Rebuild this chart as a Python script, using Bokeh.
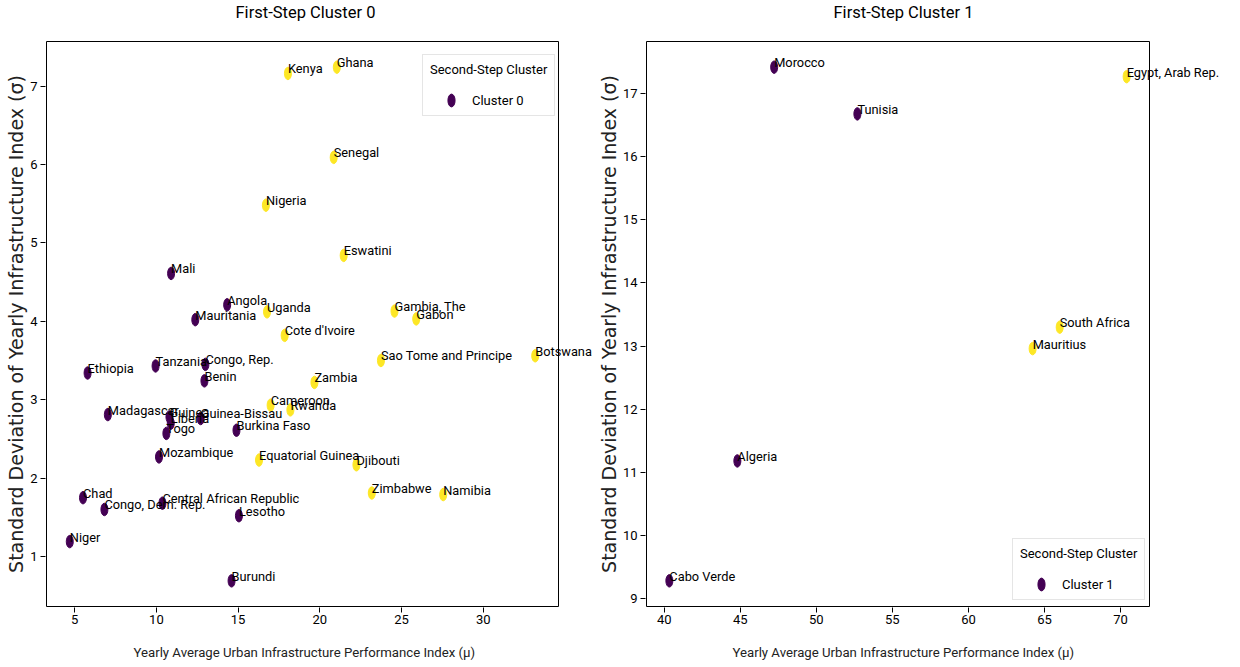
from bokeh.plotting import figure
from bokeh.models import (ColumnDataSource, LabelSet, Legend, LegendItem, FixedTicker,
                          Range1d, BoxAnnotation, Title)
from bokeh.layouts import row
from bokeh.core.properties import value
from bokeh.embed import file_html
from bokeh.resources import INLINE

# ---------------- data: first-step cluster 0 ----------------
countries0 = ["Kenya", "Ghana", "Senegal", "Nigeria", "Eswatini", "Mali", "Angola",
              "Mauritania", "Uganda", "Cote d'Ivoire", "Gambia, The", "Gabon",
              "Sao Tome and Principe", "Botswana", "Tanzania", "Congo, Rep.", "Ethiopia",
              "Benin", "Zambia", "Cameroon", "Rwanda", "Madagascar", "Guinea", "Liberia",
              "Guinea-Bissau", "Togo", "Burkina Faso", "Mozambique", "Equatorial Guinea",
              "Djibouti", "Zimbabwe", "Namibia", "Chad", "Congo, Dem. Rep.",
              "Central African Republic", "Lesotho", "Niger", "Burundi"]
mu0 = [18.05, 21.04, 20.85, 16.70, 21.46, 10.90, 14.33,
       12.38, 16.77, 17.85, 24.57, 25.90,
       23.74, 33.18, 9.95, 13.00, 5.79,
       12.94, 19.67, 16.99, 18.20, 7.03, 10.80, 10.88,
       12.71, 10.61, 14.90, 10.16, 16.28,
       22.24, 23.18, 27.55, 5.51, 6.82,
       10.37, 15.05, 4.70, 14.60]
sigma0 = [7.16, 7.24, 6.09, 5.48, 4.84, 4.61, 4.21,
          4.02, 4.12, 3.82, 4.13, 4.03,
          3.50, 3.56, 3.43, 3.45, 3.34,
          3.24, 3.22, 2.93, 2.87, 2.81, 2.78, 2.70,
          2.76, 2.57, 2.61, 2.27, 2.23,
          2.17, 1.81, 1.79, 1.75, 1.60,
          1.68, 1.52, 1.19, 0.69]
# second-step cluster: "P" = purple (legend cluster), "Y" = yellow
group0 = ["Y", "Y", "Y", "Y", "Y", "P", "P",
          "P", "Y", "Y", "Y", "Y",
          "Y", "Y", "P", "P", "P",
          "P", "Y", "Y", "Y", "P", "P", "P",
          "P", "P", "P", "P", "Y",
          "Y", "Y", "Y", "P", "P",
          "P", "P", "P", "P"]

# ---------------- data: first-step cluster 1 ----------------
countries1 = ["Morocco", "Egypt, Arab Rep.", "Tunisia", "South Africa", "Mauritius",
              "Algeria", "Cabo Verde"]
mu1 = [47.23, 70.40, 52.70, 66.00, 64.22, 44.81, 40.34]
sigma1 = [17.42, 17.27, 16.68, 13.30, 12.96, 11.18, 9.28]
group1 = ["P", "Y", "P", "Y", "Y", "P", "P"]

xticks0 = [5, 10, 15, 20, 25, 30]
yticks0 = [1, 2, 3, 4, 5, 6, 7]
xticks1 = [40, 45, 50, 55, 60, 65, 70]
yticks1 = [9, 10, 11, 12, 13, 14, 15, 16, 17]

titles = ["First-Step Cluster 0", "First-Step Cluster 1"]
legend_labels = ["Cluster 0", "Cluster 1"]
legend_title = "Second-Step Cluster"
xlabel = "Yearly Average Urban Infrastructure Performance Index (\u03bc)"
ylabel = "Standard Deviation of Yearly Infrastructure Index (\u03c3)"

PURPLE = "#440154"
YELLOW = "#fde725"
FONT = "Roboto"

FIG_H = 667
FRAME_H = 567     # plot frame height in px
BORDER_TOP = 40
BORDER_BOTTOM = FIG_H - BORDER_TOP - FRAME_H


def padded(vals):
    lo, hi = min(vals), max(vals)
    d = (hi - lo) * 0.05
    return lo - d, hi + d


def make_panel(title, countries, mu, sigma, group, xticks, yticks, leg_label,
               width, border_left, box_w, title_off, xlabel_off, leg_xy):
    frame_w = width - border_left
    # axes box (spines) in data units, matplotlib-like 5% margins
    bx0, bx1 = padded(mu)
    by0, by1 = padded(sigma)
    ppx = (box_w - 1) / (bx1 - bx0)
    ppy = (FRAME_H - 2) / (by1 - by0)
    x_range = Range1d(bx0 - 1 / ppx, bx0 - 1 / ppx + frame_w / ppx)
    y_range = Range1d(by0 - 1 / ppy, by1 + 1 / ppy)

    p = figure(width=width, height=FIG_H, output_backend="svg", toolbar_location=None,
               x_range=x_range, y_range=y_range,
               min_border_left=border_left, min_border_right=0,
               min_border_top=BORDER_TOP, min_border_bottom=BORDER_BOTTOM)
    p.title.text = title + "\n"
    p.title.align = "left"
    p.title.offset = title_off
    p.title.text_font = FONT
    p.title.text_font_size = "16.5px"
    p.title.text_font_style = "normal"
    p.title.text_color = "black"
    p.title.standoff = 0

    p.xgrid.visible = False
    p.ygrid.visible = False
    p.outline_line_color = None

    for ax, ticks in ((p.xaxis[0], xticks), (p.yaxis[0], yticks)):
        ax.ticker = FixedTicker(ticks=ticks)
        ax.minor_tick_line_color = None
        ax.major_tick_in = 0
        ax.major_tick_out = 5
        ax.major_tick_line_color = "black"
        ax.axis_line_color = None
        ax.major_label_text_font = FONT
        ax.major_label_text_font_size = "13px"
        ax.major_label_text_color = "black"

    p.xaxis.major_label_standoff = 2

    p.yaxis.axis_label = ylabel
    p.yaxis.axis_label_text_font = "DejaVu Sans"
    p.yaxis.axis_label_text_font_size = "19px"
    p.yaxis.axis_label_text_font_style = "normal"
    p.yaxis.axis_label_text_color = "#222222"
    p.yaxis.major_label_standoff = 3
    p.yaxis.axis_label_standoff = 0

    xl = Title(text="\n" + xlabel, align="left", offset=xlabel_off, text_font=FONT,
               text_font_size="13.2px", text_font_style="normal",
               text_color="#222222", standoff=3)
    p.add_layout(xl, "below")

    # spines
    p.add_layout(BoxAnnotation(left=bx0, right=bx1, bottom=by0, top=by1,
                               fill_color=None, fill_alpha=0,
                               line_color="black", line_alpha=1, line_width=1))

    idx_p = [i for i, g in enumerate(group) if g == "P"]
    idx_y = [i for i, g in enumerate(group) if g == "Y"]
    src_p = ColumnDataSource(dict(x=[mu[i] for i in idx_p], y=[sigma[i] for i in idx_p]))
    src_y = ColumnDataSource(dict(x=[mu[i] for i in idx_y], y=[sigma[i] for i in idx_y]))

    r_p = p.ellipse("x", "y", source=src_p, width=7, height=12.5,
                    width_units="screen", height_units="screen",
                    fill_color=PURPLE, line_color=PURPLE)
    p.ellipse("x", "y", source=src_y, width=7, height=12.5,
              width_units="screen", height_units="screen",
              fill_color=YELLOW, line_color=YELLOW)

    src = ColumnDataSource(dict(x=mu, y=sigma, name=countries))
    p.add_layout(LabelSet(x="x", y="y", text="name", source=src,
                          text_font=value(FONT), text_font_size="12.8px",
                          text_color="black", text_align="left",
                          text_baseline="alphabetic"))

    leg = Legend(items=[LegendItem(label=leg_label, renderers=[r_p], index=0)],
                 title=legend_title, location=leg_xy)
    leg.title_text_font = FONT
    leg.title_text_font_size = "13px"
    leg.title_text_font_style = "normal"
    leg.title_text_color = "black"
    leg.label_text_font = FONT
    leg.label_text_font_size = "13px"
    leg.label_text_color = "black"
    leg.border_line_color = "#cccccc"
    leg.border_line_width = 1
    leg.background_fill_alpha = 0.85
    leg.margin = 0
    leg.padding = 7
    leg.spacing = 4
    leg.title_standoff = 15
    leg.glyph_width = 42
    leg.glyph_height = 16
    leg.label_standoff = 0
    p.add_layout(leg)
    return p


p0 = make_panel(titles[0], countries0, mu0, sigma0, group0, xticks0, yticks0,
                legend_labels[0], 593, 45, 513, 190, 88, (377, 491))
p1 = make_panel(titles[1], countries1, mu1, sigma1, group1, xticks1, yticks1,
                legend_labels[1], 643, 52, 504, 188, 87, (367, 7))

layout = row(p0, p1)
open("out.html", "w").write(file_html(layout, INLINE))
